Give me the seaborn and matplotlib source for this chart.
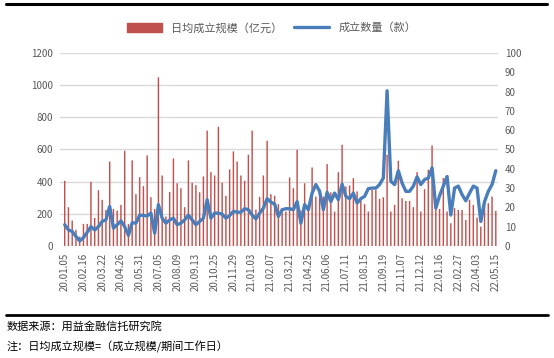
import matplotlib
matplotlib.use("Agg")
import matplotlib.pyplot as plt
import seaborn as sns
import pandas as pd
from matplotlib.patches import Patch
from matplotlib.lines import Line2D

# weekly dates, holiday weeks are missing in the source
skipped_weeks = ["2020-01-26", "2020-10-04", "2021-02-14", "2021-05-02",
                 "2021-10-03", "2021-10-10", "2022-02-06", "2022-05-01"]
weeks = pd.date_range("2020-01-05", "2022-05-15", freq="7D")
weeks = [d for d in weeks if d.strftime("%Y-%m-%d") not in skipped_weeks]
week_labels = [d.strftime("%y.%m.%d") for d in weeks]

# 日均成立规模（亿元）
daily_scale = [405, 241, 158, 100, 58, 137, 137, 399, 174, 347,
               287, 224, 525, 230, 220, 255, 592, 137, 532, 322,
               428, 372, 563, 303, 230, 1049, 438, 183, 336, 544,
               390, 359, 241, 532, 393, 378, 334, 432, 717, 459,
               438, 741, 393, 312, 476, 588, 525, 438, 405, 567,
               717, 226, 305, 438, 654, 322, 312, 260, 225, 214,
               426, 359, 598, 220, 390, 235, 488, 307, 355, 307,
               509, 334, 214, 459, 629, 370, 376, 422, 339, 293,
               260, 214, 349, 349, 293, 303, 567, 214, 255, 530,
               297, 280, 280, 241, 459, 214, 353, 474, 625, 230,
               230, 422, 214, 141, 235, 224, 224, 162, 287, 255,
               176, 120, 255, 266, 307, 218]

# 成立数量（款）
product_count = [11, 8.3, 7.5, 4.9, 2.6, 4.3, 7.1, 10, 8.3, 10,
                 12.7, 13.5, 20.5, 9.2, 11, 13, 10, 5.5, 12, 11.8,
                 16, 15.8, 15.6, 17, 6.6, 21.4, 14.4, 11.8, 13.5, 14.4,
                 11, 11.8, 13.5, 16, 13.5, 11, 12.7, 14.4, 24, 14.4,
                 17, 17, 16.5, 14.4, 15.8, 17.9, 17.5, 17.5, 19.3, 18.8,
                 16, 14, 17, 19.6, 24.5, 22.7, 21.7, 15.3, 18.8, 19.3,
                 19.3, 18.8, 23, 11.8, 21.4, 18.8, 27.4, 31.8, 28.3, 18.8,
                 27.8, 23, 27.4, 24, 32, 25.7, 24.5, 27.4, 22.2, 24.5,
                 25.7, 29.7, 30, 30, 31.8, 35.2, 80.4, 33.5, 31.8, 39,
                 32.6, 28.3, 28.3, 31, 35.8, 31.8, 34.4, 35.2, 40.5, 19.6,
                 26, 31, 36, 16, 30, 31, 26.6, 23.4, 27.4, 31,
                 30, 12.7, 23, 28.3, 31.8, 39]

df = pd.DataFrame({"week": week_labels, "scale": daily_scale, "count": product_count})
df["pos"] = range(len(df))

sns.set_theme(style="white")
plt.rcParams["font.family"] = ["Noto Sans CJK SC", "DejaVu Sans"]

bar_color = "#C0504D"
line_color = "#4A7EBB"
text_color = "#595959"

fig = plt.figure(figsize=(5.54, 3.58), dpi=100)
ax = fig.add_axes([0.108, 0.313, 0.791, 0.539])

sns.barplot(data=df, x="pos", y="scale", color=bar_color, width=0.38,
            saturation=1, native_scale=True, linewidth=0, ax=ax)
# thin bars: keep them antialiased instead of snapping to the pixel grid
for p in ax.patches:
    p.set_snap(False)
ax.set_ylim(0, 1200)
ax.set_yticks(range(0, 1201, 200))
ax.grid(axis="y", color="#D9D9D9", lw=1)
ax.set_axisbelow(True)

ax2 = ax.twinx()
sns.lineplot(data=df, x="pos", y="count", color=line_color, lw=2.4, ax=ax2)
ax2.set_ylim(0, 100)
ax2.set_yticks(range(0, 101, 10))

ax.set_xlim(-1.3, 115.6)
ax.set_xticks(df["pos"][::5])
ax.set_xticklabels(df["week"][::5], rotation=90)

for a in (ax, ax2):
    a.set_xlabel("")
    a.set_ylabel("")
    for s in a.spines.values():
        s.set_visible(False)
    a.tick_params(length=0, labelsize=7, colors=text_color, pad=5)

leg_handles = [Patch(color=bar_color), Line2D([], [], color=line_color, lw=2.4)]
fig.legend(leg_handles, ["日均成立规模（亿元）", "成立数量（款）"], loc="center",
           bbox_to_anchor=(0.49, 0.922), ncol=2, frameon=False, fontsize=8,
           handlelength=3.2, handleheight=0.9, columnspacing=1.0,
           labelcolor=text_color)

fig.add_artist(Line2D([0.011, 0.987], [0.988, 0.988], color="black", lw=2.2))
fig.add_artist(Line2D([0.011, 0.99], [0.121, 0.121], color="black", lw=2.0))
fig.text(0.012, 0.087, "数据来源：用益金融信托研究院", fontsize=8, va="center", color="black")
fig.text(0.012, 0.03, "注：日均成立规模=（成立规模/期间工作日）", fontsize=8, va="center", color="black")

fig.savefig("out.png", dpi=100)
